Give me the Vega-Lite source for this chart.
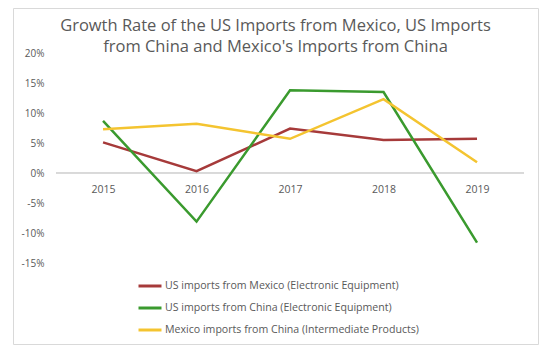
{
  "$schema": "https://vega.github.io/schema/vega-lite/v6.json",
  "width": 525,
  "height": 336,
  "autosize": {"type": "none"},
  "padding": {"left": 13, "top": 8, "right": 13, "bottom": 14},
  "background": "white",
  "title": {
    "text": ["Growth Rate of the US Imports from Mexico, US Imports", "from China and Mexico's Imports from China"],
    "font": "Open Sans",
    "fontSize": 16.5,
    "fontWeight": "normal",
    "color": "#595959",
    "anchor": "middle",
    "lineHeight": 21,
    "offset": -47
  },
  "config": {
    "view": {"stroke": "#d9d9d9", "strokeWidth": 1},
    "font": "Open Sans"
  },
  "data": {
    "values": [
      {"year": 2015, "series": "US imports from Mexico (Electronic Equipment)", "value": 0.051},
      {"year": 2016, "series": "US imports from Mexico (Electronic Equipment)", "value": 0.003},
      {"year": 2017, "series": "US imports from Mexico (Electronic Equipment)", "value": 0.074},
      {"year": 2018, "series": "US imports from Mexico (Electronic Equipment)", "value": 0.055},
      {"year": 2019, "series": "US imports from Mexico (Electronic Equipment)", "value": 0.057},
      {"year": 2015, "series": "US imports from China (Electronic Equipment)", "value": 0.087},
      {"year": 2016, "series": "US imports from China (Electronic Equipment)", "value": -0.081},
      {"year": 2017, "series": "US imports from China (Electronic Equipment)", "value": 0.138},
      {"year": 2018, "series": "US imports from China (Electronic Equipment)", "value": 0.135},
      {"year": 2019, "series": "US imports from China (Electronic Equipment)", "value": -0.116},
      {"year": 2015, "series": "Mexico imports from China (Intermediate Products)", "value": 0.073},
      {"year": 2016, "series": "Mexico imports from China (Intermediate Products)", "value": 0.082},
      {"year": 2017, "series": "Mexico imports from China (Intermediate Products)", "value": 0.057},
      {"year": 2018, "series": "Mexico imports from China (Intermediate Products)", "value": 0.123},
      {"year": 2019, "series": "Mexico imports from China (Intermediate Products)", "value": 0.018}
    ]
  },
  "layer": [
    {
      "mark": {"type": "rule", "color": "#d9d9d9", "strokeWidth": 1},
      "encoding": {
        "x": {"datum": 2014.5, "type": "quantitative", "scale": {"domain": [2014.037, 2019.652], "nice": false, "zero": false}},
        "x2": {"datum": 2019.5},
        "y": {"datum": 0, "type": "quantitative"}
      }
    },
    {
      "mark": {"type": "line", "strokeWidth": 2.5},
      "encoding": {
        "x": {
          "field": "year",
          "type": "quantitative",
          "scale": {"domain": [2014.037, 2019.652], "nice": false, "zero": false},
          "axis": {
            "title": null,
            "values": [2015, 2016, 2017, 2018, 2019],
            "format": "d",
            "grid": false,
            "domain": false,
            "ticks": false,
            "labelPadding": 2,
            "offset": -162,
            "labelFont": "Open Sans",
            "labelFontSize": 10.5,
            "labelColor": "#595959"
          }
        },
        "y": {
          "field": "value",
          "type": "quantitative",
          "scale": {"domain": [-0.285, 0.275], "nice": false, "zero": false},
          "axis": {
            "title": null,
            "values": [-0.15, -0.1, -0.05, 0, 0.05, 0.1, 0.15, 0.2],
            "labelExpr": "replace(format(datum.value, '.0%'), '\u2212', '-')",
            "grid": false,
            "domain": false,
            "ticks": false,
            "labelPadding": 0,
            "offset": -31,
            "labelFont": "Open Sans",
            "labelFontSize": 10,
            "labelColor": "#595959"
          }
        },
        "color": {
          "field": "series",
          "type": "nominal",
          "scale": {
            "domain": ["US imports from Mexico (Electronic Equipment)", "US imports from China (Electronic Equipment)", "Mexico imports from China (Intermediate Products)"],
            "range": ["#A63A3A", "#3A9A2E", "#F4C430"]
          },
          "legend": {
            "title": null,
            "orient": "none",
            "legendX": 124,
            "legendY": 265,
            "direction": "vertical",
            "symbolType": "stroke",
            "symbolSize": 529,
            "symbolStrokeWidth": 3,
            "labelFont": "Open Sans",
            "labelFontSize": 10.6,
            "labelColor": "#595959",
            "labelOffset": 2,
            "labelLimit": 0,
            "rowPadding": 3
          }
        }
      }
    }
  ]
}
